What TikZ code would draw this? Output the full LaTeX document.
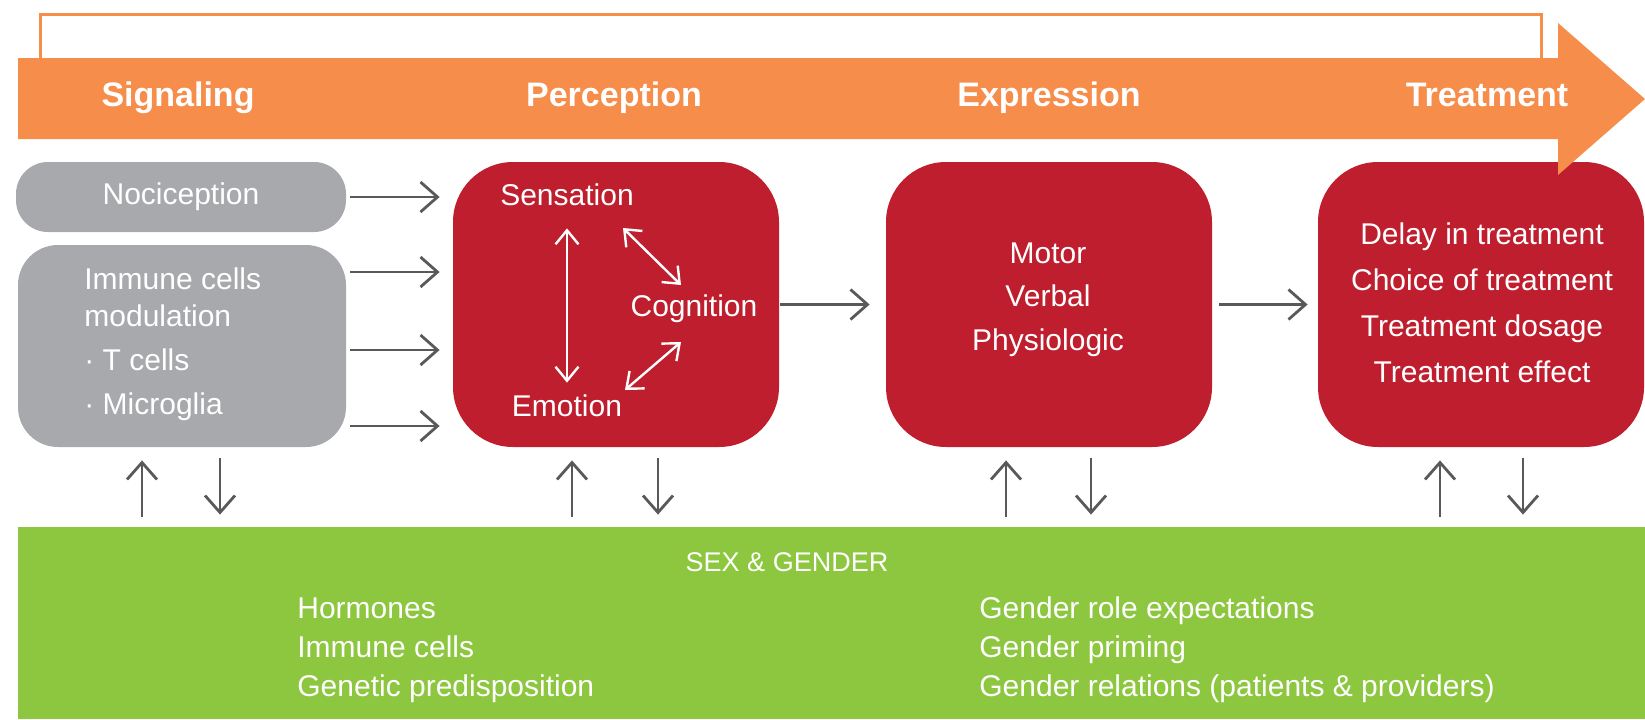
\documentclass[tikz,border=0pt]{standalone}
\usepackage{fontspec}
\setmainfont{Liberation Sans}
\usetikzlibrary{arrows.meta}
\definecolor{orng}{HTML}{F68D4A}
\definecolor{redb}{HTML}{BE1E2D}
\definecolor{grayb}{HTML}{A7A9AC}
\definecolor{grn}{HTML}{8DC63F}
\definecolor{darr}{HTML}{58595B}
\begin{document}
\begin{tikzpicture}[x=0.5pt,y=-0.5pt,
  graybox/.style={fill=grayb, draw=none, inner sep=0pt},
  redbox/.style={fill=redb, draw=none, minimum width=163pt, minimum height=142.5pt, rounded corners=30pt, inner sep=0pt},
  body/.style={text=white, font=\fontsize{15}{23}\selectfont, inner sep=0pt},
  word/.style={body, text height=11pt, text depth=3pt},
  head/.style={text=white, font=\fontsize{17}{20}\selectfont\bfseries, inner sep=0pt, text height=12pt, text depth=3.5pt},
  gtext/.style={text=white, font=\fontsize{15}{19.5}\selectfont, inner sep=0pt, align=left, anchor=west},
  garrow/.style={draw=darr, line width=1.4pt, -{Straight Barb[length=8.5pt,width=15pt]}},
  warrow/.style={draw=white, line width=1.2pt, {Straight Barb[length=7pt,width=11.5pt]}-{Straight Barb[length=7pt,width=11.5pt]}},
]
\useasboundingbox (0,0) rectangle (1645,719);

% column coordinates
\coordinate (k1u) at (142,0); \coordinate (k1d) at (220,0);
\coordinate (k2u) at (572,0); \coordinate (k2d) at (658,0);
\coordinate (k3u) at (1006,0); \coordinate (k3d) at (1091,0);
\coordinate (k4u) at (1440,0); \coordinate (k4d) at (1523,0);
\coordinate (h2) at (0,272); \coordinate (h3) at (0,350); \coordinate (h4) at (0,426);

% top outline
\draw[orng, line width=1.5pt] (40,60) -- (40,14) -- (1541,14) -- (1541,60);

% boxes
\node[graybox, minimum width=165pt, minimum height=35pt, rounded corners=16pt] (box1) at (181,197)
  {\color{white}\fontsize{15}{18}\selectfont Nociception};
\node[graybox, minimum width=164pt, minimum height=101pt, rounded corners=20pt] (box2) at (182,346) {};
\node[text=white, inner sep=0pt, font=\fontsize{15}{18.5}\selectfont, align=left, anchor=west] (box2t) at (84,344)
  {Immune cells\\modulation\\[3.5pt]· T cells\\[3.5pt]· Microglia};

\node[redbox] (perc) at (616,304.5) {};
\node[redbox] (expr) at (1049,304.5) {};
\node[redbox] (treat) at (1481,304.5) {};

\node[word] (sens) at (567,197) {Sensation};
\node[word] (cog) at (694,308) {Cognition};
\node[word] (emo) at (567,408) {Emotion};

\node[text=white, inner sep=0pt, font=\fontsize{15}{21.7}\selectfont, align=center] (exprt) at (1048,299.5) {Motor\\Verbal\\Physiologic};
\node[body, align=center] (treatt) at (1482,302.5) {Delay in treatment\\Choice of treatment\\Treatment dosage\\Treatment effect};

% inner white arrows
\draw[warrow, shorten <=8.5pt, shorten >=5.5pt] (sens) -- (emo);
\coordinate (dA1) at (623,228); \coordinate (dA2) at (681,285);
\coordinate (dB1) at (681,342); \coordinate (dB2) at (625,390);
\draw[warrow] (dA1) -- (dA2);
\draw[warrow] (dB1) -- (dB2);

% orange band with arrow head
\fill[orng] (18,58) -- (1558,58) -- (1558,23) -- (1645,99) -- (1558,175) -- (1558,139) -- (18,139) -- cycle;
\node[head] (lsig) at (178,98) {Signaling};
\node[head] (lper) at (614,98) {Perception};
\node[head] (lexp) at (1049,98) {Expression};
\node[head] (ltre) at (1487,98) {Treatment};

% horizontal arrows
\draw[garrow, shorten <=2pt, shorten >=6.5pt] (box1.east) -- (box1.east -| perc.west);
\draw[garrow, shorten <=2pt, shorten >=6.5pt] (box2.east |- h2) -- (perc.west |- h2);
\draw[garrow, shorten <=2pt, shorten >=6.5pt] (box2.east |- h3) -- (perc.west |- h3);
\draw[garrow, shorten <=2pt, shorten >=6.5pt] (box2.east |- h4) -- (perc.west |- h4);
\draw[garrow, shorten <=0.5pt, shorten >=8pt] (perc.east) -- (expr.west);
\draw[garrow, shorten <=3.5pt, shorten >=5pt] (expr.east) -- (treat.west);

% green box
\node[fill=grn, minimum width=813.5pt, minimum height=96pt, inner sep=0pt] (green) at (831.5,623) {};
\node[text=white, font=\fontsize{13.5}{16}\selectfont, inner sep=0pt] (sg) at (787,562) {SEX \& GENDER};
\node[gtext] (gl) at (297,650) {Hormones\\Immune cells\\Genetic predisposition};
\node[gtext] (gr) at (979,650) {Gender role expectations\\Gender priming\\Gender relations (patients \& providers)};

% vertical arrows
\draw[garrow, shorten <=5pt, shorten >=6.5pt] (green.north -| k1u) -- (box2.south -| k1u);
\draw[garrow, shorten <=5.5pt, shorten >=6pt] (box2.south -| k1d) -- (green.north -| k1d);
\draw[garrow, shorten <=5pt, shorten >=6.5pt] (green.north -| k2u) -- (perc.south -| k2u);
\draw[garrow, shorten <=5.5pt, shorten >=6pt] (perc.south -| k2d) -- (green.north -| k2d);
\draw[garrow, shorten <=5pt, shorten >=6.5pt] (green.north -| k3u) -- (expr.south -| k3u);
\draw[garrow, shorten <=5.5pt, shorten >=6pt] (expr.south -| k3d) -- (green.north -| k3d);
\draw[garrow, shorten <=5pt, shorten >=6.5pt] (green.north -| k4u) -- (treat.south -| k4u);
\draw[garrow, shorten <=5.5pt, shorten >=6pt] (treat.south -| k4d) -- (green.north -| k4d);
\end{tikzpicture}
\end{document}
